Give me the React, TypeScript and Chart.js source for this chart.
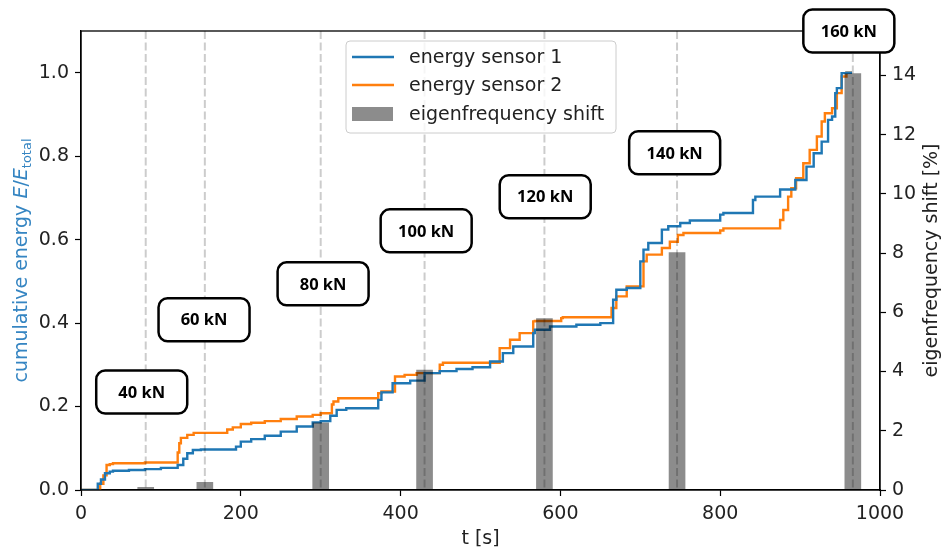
import { useEffect, useRef } from 'react';
import { Chart, registerables } from 'chart.js';

Chart.register(...registerables);

// ---- data ----
const T_S1 = [0, 21, 25, 30, 36, 40, 60, 80, 100, 121, 128, 133, 140, 150, 170, 194, 200, 213, 230, 250, 270, 290, 300, 312, 320, 332, 372, 376, 390, 412, 430, 449, 470, 490, 512, 528, 541, 566, 568, 587, 620, 650, 666, 670, 683, 700, 704, 710, 727, 735, 750, 762, 800, 804, 841, 844, 875, 894, 908, 917, 927, 935, 940, 944, 946, 952, 958, 965];
const E_S1 = [0, 0, 0.015, 0.025, 0.04, 0.044, 0.046, 0.048, 0.05, 0.053, 0.06, 0.075, 0.088, 0.096, 0.097, 0.097, 0.104, 0.116, 0.122, 0.13, 0.14, 0.152, 0.162, 0.165, 0.178, 0.192, 0.196, 0.216, 0.234, 0.256, 0.262, 0.28, 0.285, 0.29, 0.294, 0.308, 0.328, 0.344, 0.376, 0.384, 0.392, 0.396, 0.4, 0.456, 0.48, 0.484, 0.548, 0.576, 0.592, 0.624, 0.632, 0.64, 0.646, 0.66, 0.664, 0.695, 0.703, 0.72, 0.743, 0.775, 0.807, 0.835, 0.887, 0.895, 0.951, 0.963, 0.999, 1.0];

const T_S2 = [0, 24, 28, 32, 36, 40, 80, 121, 123, 125, 133, 141, 183, 190, 200, 213, 230, 250, 270, 290, 300, 314, 316, 322, 332, 372, 376, 393, 405, 420, 449, 453, 524, 537, 549, 566, 568, 601, 603, 664, 670, 683, 704, 708, 727, 737, 747, 754, 800, 804, 875, 879, 885, 889, 895, 904, 912, 921, 927, 931, 940, 946, 952, 958, 965];
const E_S2 = [0, 0, 0.015, 0.035, 0.06, 0.062, 0.064, 0.066, 0.09, 0.112, 0.125, 0.132, 0.137, 0.145, 0.15, 0.158, 0.161, 0.165, 0.17, 0.176, 0.18, 0.184, 0.205, 0.212, 0.22, 0.22, 0.232, 0.236, 0.272, 0.276, 0.28, 0.3, 0.305, 0.34, 0.36, 0.376, 0.404, 0.405, 0.412, 0.414, 0.436, 0.464, 0.488, 0.548, 0.564, 0.58, 0.595, 0.611, 0.616, 0.622, 0.627, 0.647, 0.671, 0.703, 0.723, 0.747, 0.783, 0.815, 0.847, 0.883, 0.903, 0.915, 0.951, 0.991, 1.0];

const LOAD_T = [81, 155, 300, 430, 580, 746, 966];
const SHIFT = [0.09, 0.26, 2.27, 4.05, 5.79, 8.02, 14.06];
const LOAD_LABELS = ['40 kN', '60 kN', '80 kN', '100 kN', '120 kN', '140 kN', '160 kN'];
const LABEL_T = [76, 154, 303, 432, 581, 743, 961];
const LABEL_E = [0.235, 0.408, 0.494, 0.621, 0.703, 0.808, 1.1];

const X_TICKS = [0, 200, 400, 600, 800, 1000];

const BLUE = '#1f77b4';
const ORANGE = '#ff7f0e';
const BAR = 'rgba(0,0,0,0.45)';
const TXT = '#222';
const FONT = 'DejaVu Sans';

const overlay = {
  id: 'overlay',
  afterDatasetsDraw(chart: any) {
    const { ctx, chartArea: a } = chart;
    const x = chart.scales.x;
    ctx.save();
    ctx.strokeStyle = 'rgba(0,0,0,0.2)';
    ctx.lineWidth = 2;
    ctx.setLineDash([8, 3.5]);
    LOAD_T.forEach((t) => {
      const px = x.getPixelForValue(t);
      ctx.beginPath();
      ctx.moveTo(px, a.top);
      ctx.lineTo(px, a.bottom);
      ctx.stroke();
    });
    ctx.setLineDash([]);
    ctx.strokeStyle = '#000';
    ctx.lineWidth = 1.3;
    ctx.strokeRect(a.left, a.top, a.right - a.left, a.bottom - a.top);
    ctx.restore();
  },
  afterDraw(chart: any) {
    const { ctx, chartArea: a } = chart;
    const x = chart.scales.x;
    const y = chart.scales.y;
    ctx.save();

    // legend
    const lx = 346, ly = 41, lw = 270, lh = 92;
    ctx.beginPath();
    ctx.roundRect(lx, ly, lw, lh, 4);
    ctx.fillStyle = 'rgba(255,255,255,0.8)';
    ctx.fill();
    ctx.strokeStyle = '#cccccc';
    ctx.lineWidth = 1;
    ctx.stroke();
    const rows = [57, 85, 114];
    ctx.lineWidth = 2.4;
    ctx.strokeStyle = BLUE;
    ctx.beginPath(); ctx.moveTo(352, rows[0]); ctx.lineTo(394, rows[0]); ctx.stroke();
    ctx.strokeStyle = ORANGE;
    ctx.beginPath(); ctx.moveTo(352, rows[1]); ctx.lineTo(394, rows[1]); ctx.stroke();
    ctx.fillStyle = BAR;
    ctx.fillRect(352, rows[2] - 7, 41, 14);
    ctx.fillStyle = TXT;
    ctx.font = `19px "${FONT}"`;
    ctx.textBaseline = 'middle';
    ctx.textAlign = 'left';
    ['energy sensor 1', 'energy sensor 2', 'eigenfrequency shift'].forEach((s, i) => ctx.fillText(s, 409, rows[i] + 1));

    // load boxes
    LOAD_LABELS.forEach((s, i) => {
      const cx = x.getPixelForValue(LABEL_T[i]);
      const cy = y.getPixelForValue(LABEL_E[i]);
      const w = 91, h = 43;
      ctx.beginPath();
      ctx.roundRect(cx - w / 2, cy - h / 2, w, h, 9);
      ctx.fillStyle = '#fff';
      ctx.fill();
      ctx.strokeStyle = '#000';
      ctx.lineWidth = 2.5;
      ctx.stroke();
      ctx.fillStyle = '#000';
      ctx.font = `bold 16.5px "Open Sans"`;
      ctx.textAlign = 'center';
      ctx.textBaseline = 'middle';
      ctx.fillText(s, cx, cy + 1);
    });

    // x title
    ctx.fillStyle = TXT;
    ctx.font = `19px "${FONT}"`;
    ctx.textAlign = 'center';
    ctx.textBaseline = 'middle';
    ctx.fillText('t [s]', (a.left + a.right) / 2, 539);

    // right title
    const cyMid = (a.top + a.bottom) / 2;
    ctx.save();
    ctx.translate(932, cyMid);
    ctx.rotate(-Math.PI / 2);
    ctx.fillText('eigenfrequency shift [%]', 0, 0);
    ctx.restore();

    // left title with italic E and subscript
    ctx.save();
    ctx.translate(20, cyMid);
    ctx.rotate(-Math.PI / 2);
    ctx.textAlign = 'left';
    ctx.textBaseline = 'alphabetic';
    const parts: [string, string, number][] = [
      ['cumulative energy ', `19px "${FONT}"`, 0],
      ['E', `italic 19px "${FONT}"`, 0],
      ['/', `19px "${FONT}"`, 0],
      ['E', `italic 19px "${FONT}"`, 0],
      ['total', `13px "${FONT}"`, 4],
    ];
    let total = 0;
    parts.forEach(([s, f]) => { ctx.font = f; total += ctx.measureText(s).width; });
    let px = -total / 2;
    ctx.fillStyle = '#3585c2';
    parts.forEach(([s, f, dy]) => {
      ctx.font = f;
      ctx.fillText(s, px, 7 + dy);
      px += ctx.measureText(s).width;
    });
    ctx.restore();

    ctx.restore();
  },
};

export default function App() {
  const ref = useRef<HTMLCanvasElement>(null);
  useEffect(() => {
    const tickFont = { family: FONT, size: 19 };
    const grid = { drawOnChartArea: false, drawTicks: true, offset: false, tickLength: 6, tickColor: '#000', tickWidth: 1.2 };
    const border = { display: true, color: '#000', width: 1.3 };
    const chart = new Chart(ref.current!, {
      type: 'line',
      data: {
        datasets: [
          {
            type: 'bar',
            label: 'eigenfrequency shift',
            data: LOAD_T.map((t, i) => ({ x: t, y: SHIFT[i] })),
            yAxisID: 'y2',
            backgroundColor: BAR,
            borderWidth: 0,
            barThickness: 16,
            order: 0,
          } as any,
          {
            type: 'line',
            label: 'energy sensor 2',
            data: T_S2.map((t, i) => ({ x: t, y: E_S2[i] })),
            yAxisID: 'y',
            borderColor: ORANGE,
            borderWidth: 2.4,
            pointRadius: 0,
            stepped: 'after',
            fill: false,
            order: 2,
          },
          {
            type: 'line',
            label: 'energy sensor 1',
            data: T_S1.map((t, i) => ({ x: t, y: E_S1[i] })),
            yAxisID: 'y',
            borderColor: BLUE,
            borderWidth: 2.4,
            pointRadius: 0,
            stepped: 'after',
            fill: false,
            order: 1,
          },
        ],
      },
      options: {
        responsive: false,
        animation: false,
        devicePixelRatio: 1,
        layout: { padding: { top: 31, left: 0, right: 0, bottom: 0 } },
        plugins: { legend: { display: false }, tooltip: { enabled: false } },
        scales: {
          x: {
            type: 'linear',
            min: 0,
            max: 1000,
            offset: false,
            afterBuildTicks: (s: any) => { s.ticks = X_TICKS.map((v) => ({ value: v })); },
            ticks: { font: tickFont, color: TXT, padding: 7, maxRotation: 0, autoSkip: false, callback: (v: any) => String(v) },
            grid,
            border,
            afterFit: (s: any) => { s.height = 66; },
          },
          y: {
            type: 'linear',
            position: 'left',
            min: 0,
            max: 1.1,
            ticks: {
              stepSize: 0.2,
              includeBounds: false,
              font: tickFont,
              color: TXT,
              padding: 6,
              callback: (v: any) => Number(v).toFixed(1),
            },
            grid,
            border,
            afterFit: (s: any) => { s.width = 81; },
          },
          y2: {
            type: 'linear',
            position: 'right',
            min: 0,
            max: 15.5,
            ticks: { stepSize: 2, includeBounds: false, font: tickFont, color: TXT, padding: 6 },
            grid,
            border,
            afterFit: (s: any) => { s.width = 67; },
          },
        },
      } as any,
      plugins: [overlay],
    });
    return () => chart.destroy();
  }, []);
  return (
    <div style={{ position: 'fixed', left: 0, top: 0, width: 947, height: 556, background: '#fff' }}>
      <canvas ref={ref} width={947} height={556} style={{ display: 'block', width: 947, height: 556 }} />
    </div>
  );
}
